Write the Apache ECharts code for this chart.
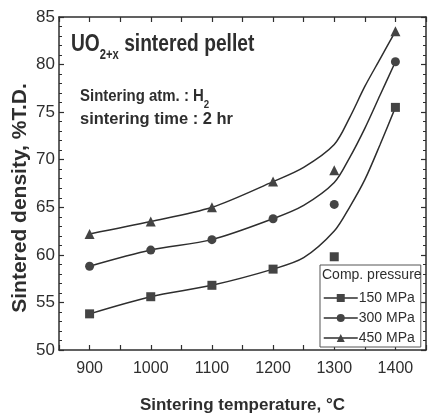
<!DOCTYPE html>
<html><head><meta charset="utf-8">
<script src="https://cdn.jsdelivr.net/npm/echarts@6/dist/echarts.min.js"></script>
<style>html,body{margin:0;padding:0;background:#fff}#c{width:429px;height:419px}</style>
</head><body><div id="c"></div>
<script>
// Measured data
var temps = [900, 1000, 1100, 1200, 1300, 1400];
var d150 = [53.8, 55.6, 56.8, 58.5, 59.8, 75.5];
var d300 = [58.8, 60.5, 61.6, 63.8, 65.3, 80.3];
var d450 = [62.2, 63.5, 65.0, 67.7, 68.9, 83.5];
// Fitted curves
var fitT   = [900, 1000, 1100, 1200, 1250, 1300, 1325, 1350, 1375, 1400];
var fit150 = [53.8, 55.6, 56.8, 58.5, 59.7, 62.5, 65.0, 67.9, 71.6, 75.5];
var fit300 = [58.8, 60.5, 61.6, 63.8, 65.2, 67.6, 70.2, 73.3, 76.8, 80.3];
var fit450 = [62.2, 63.5, 65.0, 67.7, 69.2, 71.6, 74.4, 77.7, 80.6, 83.5];
var names = ['150 MPa', '300 MPa', '450 MPa'];
var xTickLabels = [900, 1000, 1100, 1200, 1300, 1400];

function pairs(xs, ys){ return xs.map(function(x,i){ return [x, ys[i]]; }); }

var FONT = '"Liberation Sans", Arial, sans-serif';
var INK = '#2e2e2e';
var MARK = '#444';

var chart = echarts.init(document.getElementById('c'));
var axisCommon = {
  axisLine: {show: true, lineStyle: {color: INK, width: 1.5}},
  splitLine: {show: false}
};
function markerSeries(name, data, sym, size){
  return {name: name, type: 'line', data: pairs(temps, data), symbol: sym, symbolSize: size,
    showSymbol: true, lineStyle: {width: 0, opacity: 0}, itemStyle: {color: MARK},
    z: 5, silent: true};
}
function fitSeries(name, data){
  return {name: name, type: 'line', data: pairs(fitT, data), smooth: 0.3,
    showSymbol: false, symbol: 'none', lineStyle: {color: INK, width: 1.5}, z: 3, silent: true};
}
chart.setOption({
  animation: false,
  backgroundColor: '#fff',
  grid: {left: 59, top: 17, right: -3, bottom: 66, containLabel: false},
  title: {text: 'Comp. pressure', left: 322, top: 268, padding: 0,
    textStyle: {fontFamily: FONT, fontSize: 14, fontWeight: 'normal', color: INK}},
  legend: {
    data: names, orient: 'vertical', left: 320, top: 265,
    padding: [26, 6, 2, 3], itemGap: 6, itemWidth: 34, itemHeight: 10,
    borderColor: '#555', borderWidth: 1, backgroundColor: '#fff',
    lineStyle: {color: INK, width: 1.5, opacity: 1},
    textStyle: {fontFamily: FONT, fontSize: 14, color: INK, padding: [0,0,0,-4], lineHeight: 14},
    selectedMode: false
  },
  xAxis: [
    Object.assign({type: 'value', min: 850, max: 1450, interval: 50, position: 'bottom',
      name: 'Sintering temperature, \u00B0C', nameLocation: 'middle', nameGap: 47,
      nameTextStyle: {fontFamily: FONT, fontSize: 17, fontWeight: 'bold', color: INK},
      axisTick: {show: true, inside: true, length: 5, lineStyle: {color: INK, width: 1.2}},
      axisLabel: {margin: 11, fontFamily: FONT, fontSize: 16, color: INK,
        formatter: function(v){ return xTickLabels.indexOf(v) >= 0 ? String(v) : ''; }}
    }, axisCommon),
    Object.assign({type: 'value', min: 850, max: 1450, interval: 50, position: 'top',
      axisTick: {show: true, inside: true, length: 5, lineStyle: {color: INK, width: 1.2}},
      axisLabel: {show: false}}, axisCommon)
  ],
  yAxis: [
    Object.assign({type: 'value', min: 50, max: 85, interval: 5, position: 'left',
      axisTick: {show: true, inside: true, length: 5, lineStyle: {color: INK, width: 1.2}},
      minorTick: {show: true, splitNumber: 5, length: 3, lineStyle: {color: INK, width: 1}},
      minorSplitLine: {show: false},
      axisLabel: {margin: 4, fontFamily: FONT, fontSize: 17, color: INK}
    }, axisCommon),
    Object.assign({type: 'value', min: 50, max: 85, interval: 5, position: 'right',
      axisTick: {show: true, inside: true, length: 5, lineStyle: {color: INK, width: 1.2}},
      minorTick: {show: true, splitNumber: 5, length: 3, lineStyle: {color: INK, width: 1}},
      axisLabel: {show: false}}, axisCommon)
  ],
  graphic: [
    {type: 'text', x: 20, y: 198, rotation: Math.PI / 2, style: {
      text: 'Sintered density, %T.D.', fontFamily: FONT, fontSize: 21, fontWeight: 'bold',
      fill: INK, align: 'center', verticalAlign: 'middle'}},
    {type: 'text', x: 71, y: 30, scaleX: 0.8, style: {
      text: '{a|UO}{s|2+x}{a| sintered pellet}',
      rich: {
        a: {fontFamily: FONT, fontSize: 24, fontWeight: 'bold', fill: INK, verticalAlign: 'bottom', lineHeight: 26},
        s: {fontFamily: FONT, fontSize: 14, fontWeight: 'bold', fill: INK, verticalAlign: 'bottom', lineHeight: 17, padding: [0,0,-6,0]}
      }}},
    {type: 'text', x: 80, y: 86, scaleX: 0.88, style: {
      text: '{a|Sintering atm. : H}{s|2}',
      rich: {
        a: {fontFamily: FONT, fontSize: 17, fontWeight: 'bold', fill: INK, verticalAlign: 'bottom', lineHeight: 19},
        s: {fontFamily: FONT, fontSize: 11, fontWeight: 'bold', fill: INK, verticalAlign: 'bottom', lineHeight: 13, padding: [0,0,-5,0]}
      }}},
    {type: 'text', x: 80, y: 111, scaleX: 0.97, style: {
      text: 'sintering time : 2 hr',
      fontFamily: FONT, fontSize: 17, fontWeight: 'bold', fill: INK}}
  ],
  series: [
    fitSeries('fit150', fit150),
    fitSeries('fit300', fit300),
    fitSeries('fit450', fit450),
    markerSeries(names[0], d150, 'rect', 9),
    markerSeries(names[1], d300, 'circle', 9),
    markerSeries(names[2], d450, 'triangle', 10)
  ]
});
</script></body></html>
